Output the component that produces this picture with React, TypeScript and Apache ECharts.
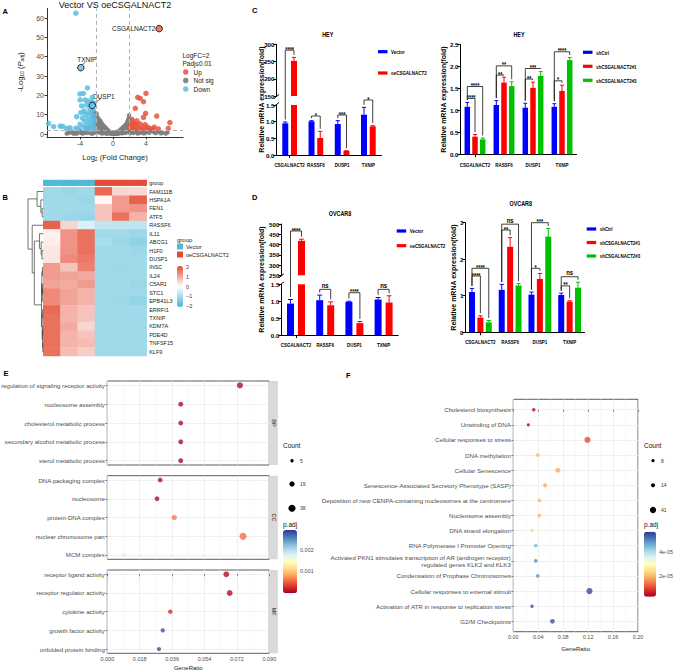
import React, { useEffect, useRef } from 'react';
import * as echarts from 'echarts';

const FONT = "'Liberation Sans', Arial, Helvetica, sans-serif";
const FONT_GP = "'Liberation Sans', Arial, Helvetica, sans-serif";

/* ================= A: volcano ================= */
const VOLCANO_TITLE = 'Vector VS oeCSGALNACT2';
const VOLCANO_X_TICKS = [-4, 0, 4];
const VOLCANO_Y_TICKS = [0, 10, 20, 30, 40, 50, 60];
const VOLCANO_FC_CUTS = [-2, 2];
const VOLCANO_P_CUT = 2;
const VOLCANO_UP = [
  [4.0, 21.0], [3.3, 18.4], [3.0, 19.0], [3.7, 16.7], [2.7, 13.3], [3.95, 10.7], [3.7, 8.6], [5.3, 9.3],
  [6.9, 5.9], [6.7, 2.9], [2.5, 5.5], [2.2, 4.5], [2.4, 6.5], [2.8, 5.0], [3.0, 4.0], [3.3, 5.2],
  [3.6, 3.5], [2.6, 3.2], [2.3, 2.8], [4.2, 3.5], [4.5, 2.8], [5.0, 3.5], [3.9, 4.8], [3.2, 2.5],
  [4.8, 2.5], [5.5, 2.6], [2.9, 6.8], [2.3, 7.5], [2.1, 3.5], [2.7, 2.3], [3.5, 2.2], [4.1, 2.4],
];
const VOLCANO_DOWN = [
  [-4.5, 62.5], [-3.1, 23.8], [-4.0, 20.7], [-3.6, 21.0], [-4.0, 17.6], [-3.4, 17.6], [-3.0, 17.0],
  [-2.6, 16.5], [-2.3, 16.0], [-3.8, 14.5], [-3.2, 15.0], [-2.8, 13.0], [-2.4, 12.5], [-3.5, 12.0],
  [-2.9, 11.0], [-2.6, 10.0], [-2.3, 9.5], [-3.3, 10.0], [-4.4, 9.0], [-3.7, 8.2], [-3.0, 8.0],
  [-2.5, 7.5], [-2.2, 7.0], [-2.8, 6.0], [-3.4, 6.5], [-4.0, 5.0], [-2.4, 5.0], [-3.1, 4.5],
  [-2.7, 4.0], [-3.6, 3.8], [-4.5, 3.0], [-5.2, 3.2], [-2.3, 3.2], [-3.0, 2.8], [-7.8, 5.5],
  [-7.2, 3.8], [-6.4, 4.1], [-6.1, 3.9], [-5.6, 2.9], [-4.2, 2.6], [-2.2, 2.5], [-2.6, 2.4],
  [-2.9, 2.3], [-3.3, 3.0], [-2.5, 19.0], [-3.9, 11.0],
];
const VOLCANO_NOTSIG = [
  [-2.3, 11.2], [-2.2, 9.8], [-2.1, 8.5], [-2.25, 7.6], [-2.05, 6.8], [-1.95, 9.0], [-1.9, 7.4],
  [-1.85, 6.1], [-1.8, 5.2], [-1.7, 6.5], [-1.65, 4.6], [-1.6, 5.6], [-1.5, 4.0], [-1.45, 3.4],
  [-1.4, 4.8], [-1.3, 3.0], [-1.25, 3.8], [-1.2, 2.5], [-1.1, 3.2], [-1.0, 2.2], [-0.95, 1.8],
  [-0.85, 2.6], [-0.8, 1.5], [-0.7, 1.2], [-0.6, 1.7], [-0.5, 0.9], [-0.4, 0.6], [-0.3, 0.4],
  [-0.2, 0.2], [-0.1, 0.1], [-2.15, 5.5], [-2.0, 4.5], [-1.95, 3.5], [-1.75, 2.8], [-1.55, 2.0],
  [-1.35, 1.5], [-1.15, 1.0], [-2.2, 3.0], [-2.1, 2.2], [-1.9, 1.6],
  [-2.4, 8.8], [-2.35, 10.3], [-2.0, 10.6], [-1.8, 8.2], [-1.7, 7.3], [-1.55, 6.8], [-1.45, 5.9],
  [-1.3, 5.1], [-1.2, 4.4], [-1.05, 3.9], [-0.9, 3.3], [-0.75, 2.4], [-0.65, 2.0], [-0.45, 1.3],
  [-0.35, 1.0], [-0.25, 0.7], [-2.05, 1.2], [-1.65, 1.2], [-1.25, 2.0], [-0.9, 1.1],
  [0.1, 0.1], [0.2, 0.3], [0.35, 0.5], [0.5, 0.9], [0.6, 1.3], [0.75, 1.6], [0.9, 2.0], [1.0, 2.6],
  [1.1, 2.2], [1.2, 3.2], [1.3, 2.8], [1.35, 3.8], [1.45, 4.3], [1.5, 3.4], [1.6, 5.0], [1.65, 4.2],
  [1.7, 5.6], [1.75, 6.3], [1.8, 4.8], [1.85, 7.2], [1.9, 6.0], [1.95, 9.6], [1.9, 8.0], [1.6, 2.4],
  [1.4, 1.6], [1.2, 1.3], [1.0, 0.9], [0.8, 0.6], [1.8, 3.0], [1.95, 2.2],
  [0.3, 0.8], [0.45, 0.4], [0.65, 0.9], [0.85, 1.3], [1.05, 1.6], [1.15, 2.9], [1.25, 3.6], [1.4, 2.5],
  [1.55, 4.4], [1.7, 3.7], [1.85, 5.4], [1.95, 4.0], [1.75, 2.0], [1.5, 1.2], [1.3, 0.8],
  [-5.3, 0.6], [-5.0, 1.2], [-4.6, 0.4], [-4.3, 0.9], [-4.0, 1.5], [-3.7, 0.3], [-3.4, 1.1],
  [-3.1, 0.6], [-2.8, 1.6], [-2.6, 0.8], [-2.4, 1.3], [-2.5, 0.2], [-3.0, 1.8], [-3.9, 0.7], [-4.8, 0.2],
  [2.2, 1.4], [2.5, 0.6], [2.8, 1.7], [3.1, 0.9], [3.4, 1.5], [3.7, 0.4], [4.0, 1.2], [4.4, 0.7],
  [4.8, 1.6], [5.2, 0.5], [5.6, 1.1], [6.0, 0.6], [6.4, 0.3], [2.4, 1.9], [3.0, 0.3], [4.6, 1.9],
  [-0.6, 0.3], [-1.0, 0.5], [-1.5, 0.7], [0.4, 0.2], [0.7, 0.3], [1.5, 0.6], [-1.8, 0.9], [1.8, 1.0],
  [-5.6, 0.3], [-4.4, 0.2], [-3.5, 0.5], [-3.2, 1.4], [-2.7, 0.4], [-2.3, 0.6], [-2.2, 1.7], [2.1, 0.5],
  [2.6, 1.1], [3.3, 0.7], [3.9, 0.5], [4.3, 1.6], [5.0, 0.9], [5.8, 0.4], [6.6, 0.8], [-0.8, 0.2],
  [0.1, 0.5], [0.5, 0.1], [-1.3, 0.3], [1.1, 0.4],
];
const VOLCANO_HIGHLIGHT = [
  { gene: 'CSGALNACT2', x: 5.6, y: 54.5, group: 'Up' },
  { gene: 'TXNIP', x: -3.9, y: 34.3, group: 'Down' },
  { gene: 'DUSP1', x: -2.5, y: 14.8, group: 'Down' },
];
const VOLCANO_LEGEND = ['Up', 'Not sig', 'Down'];

/* ================= B: heatmap ================= */
const HEATMAP_GENES = ['FAM111B', 'HSPA1A', 'FEN1', 'ATF5', 'RASSF6', 'IL11', 'ABCG1', 'H1F0', 'DUSP1', 'INSC',
  'IL24', 'C5AR1', 'STC1', 'EPB41L3', 'ERRFI1', 'TXNIP', 'KDM7A', 'PDE4D', 'TNFSF15', 'KLF9'];
const HEATMAP_SAMPLES = ['Vector_1', 'Vector_2', 'Vector_3', 'oe_1', 'oe_2', 'oe_3'];
const HEATMAP_GROUP_NAMES = ['Vector', 'oeCSGALNACT2'];
const HEATMAP_SAMPLE_GROUP = [0, 0, 0, 1, 1, 1];
const HEATMAP_VALUES = [
  [-1.1, -1.15, -1.1, 1.8, 0.5, 0.45],
  [-1.1, -1.1, -1.15, 0.1, 1.2, 1.9],
  [-1.1, -1.1, -1.1, 0.7, 1.2, 1.3],
  [-1.1, -1.15, -1.2, 0.7, 1.7, 0.9],
  [1.9, 0.5, -0.4, -0.75, -0.75, -0.75],
  [0.15, 1.3, 1.7, -1.1, -1.1, -1.15],
  [0.2, 1.3, 1.7, -1.0, -1.15, -1.3],
  [0.3, 1.3, 1.7, -1.1, -1.1, -1.15],
  [0.3, 1.4, 1.6, -1.1, -1.1, -1.1],
  [1.2, 0.7, 1.5, -1.1, -1.15, -1.1],
  [1.2, 1.1, 1.0, -1.1, -1.1, -1.1],
  [1.1, 1.0, 1.2, -1.1, -1.1, -1.15],
  [1.4, 1.1, 0.9, -1.1, -1.1, -1.1],
  [1.4, 1.1, 0.9, -1.1, -1.15, -1.25],
  [1.8, 0.9, 0.7, -1.1, -1.1, -1.1],
  [1.7, 0.9, 0.7, -1.1, -1.1, -1.1],
  [1.7, 1.0, 0.5, -1.1, -1.1, -1.1],
  [1.7, 0.9, 0.7, -1.1, -1.1, -1.1],
  [1.7, 0.9, 0.8, -1.1, -1.1, -1.1],
  [1.7, 0.8, 0.6, -1.1, -1.1, -1.1],
];
const HEATMAP_LEGEND_TICKS = [2, 1, 0, -1, -2];
const HEATMAP_RANGE = [-2.15, 2.15];
// merges: [childA, childB, height]; child >= 0 is a row, child < 0 is merge -(k+1)
const DENDRO_MERGES = [
  [2, 3, 0.7], [1, -1, 1.5], [0, -2, 3.8],
  [7, 8, 0.8], [6, -4, 1.3], [5, -5, 2.3],
  [9, 10, 0.5], [11, 12, 0.4], [13, -8, 0.6], [-7, -9, 0.9],
  [14, 15, 0.4], [16, 17, 0.3], [18, 19, 0.3], [-12, -13, 0.5], [-11, -14, 0.7], [-10, -15, 1.1],
  [-6, -16, 5.5], [4, -17, 6.8], [-3, -18, 9.4],
];

/* ================= C / D: qPCR ================= */
const QPCR_GENES = ['CSGALNACT2', 'RASSF6', 'DUSP1', 'TXNIP'];
const OE_GROUPS = ['Vector', 'oeCSGALNACT2'];
const SH_GROUPS = ['shCtrl', 'shCSGALNACT2#1', 'shCSGALNACT2#3'];

const HEY_OE_MEAN = [[0.95, 1.01, 0.93, 1.21], [252, 0.51, 0.12, 0.86]];
const HEY_OE_SD = [[0.04, 0.02, 0.1, 0.22], [10, 0.2, 0.01, 0.02]];
const HEY_OE_SIG = [[0, 0, 1, 283, '****'], [1, 0, 1, 1.17, '*'], [2, 0, 1, 1.2, '***'], [3, 0, 1, 1.65, '*']];

const HEY_SH_MEAN = [[1.08, 1.12, 1.06, 1.08], [0.4, 1.63, 1.51, 1.44], [0.34, 1.55, 1.78, 2.14]];
const HEY_SH_SD = [[0.1, 0.1, 0.1, 0.07], [0.05, 0.12, 0.13, 0.13], [0.03, 0.1, 0.1, 0.06]];
const HEY_SH_SIG = [[0, 0, 1, 1.27, '****'], [0, 0, 2, 1.54, '****'], [1, 0, 1, 1.8, '**'], [1, 0, 2, 2.01, '**'],
  [2, 0, 1, 1.71, '**'], [2, 0, 2, 1.95, '***'], [3, 0, 1, 1.67, '*'], [3, 0, 2, 2.33, '****']];

const OV_OE_MEAN = [[0.93, 1.03, 0.98, 1.05], [418, 0.88, 0.35, 0.96]];
const OV_OE_SD = [[0.12, 0.15, 0.02, 0.06], [8, 0.1, 0.05, 0.2]];
const OV_OE_SIG = [[0, 0, 1, 466, '****'], [1, 0, 1, 1.35, 'ns'], [2, 0, 1, 1.25, '****'], [3, 0, 1, 1.35, 'ns']];

const OV_SH_MEAN = [[1.1, 1.16, 1.03, 1.02], [0.4, 2.34, 1.46, 0.84], [0.27, 1.28, 2.62, 1.22]];
const OV_SH_SD = [[0.1, 0.15, 0.07, 0.05], [0.05, 0.25, 0.15, 0.02], [0.05, 0.05, 0.22, 0.15]];
const OV_SH_SIG = [[0, 0, 1, 1.54, '****'], [0, 0, 2, 1.75, '****'], [1, 0, 1, 2.8, '**'], [1, 0, 2, 2.96, 'ns'],
  [2, 0, 1, 1.75, '*'], [2, 0, 2, 3.0, '***'], [3, 0, 1, 1.27, '**'], [3, 0, 2, 1.52, 'ns']];

/* ================= E: GO dot plot ================= */
const E_BP_TERMS = ['regulation of signaling receptor activity', 'nucleosome assembly', 'cholesterol metabolic process',
  'secondary alcohol metabolic process', 'sterol metabolic process'];
const E_BP_RATIO = [0.0737, 0.0408, 0.0408, 0.0408, 0.0408];
const E_BP_PADJ = [0.00008, 0.00006, 0.00006, 0.00006, 0.00006];
const E_BP_COUNT = [27, 15, 15, 15, 15];
const E_CC_TERMS = ['DNA packaging complex', 'nucleosome', 'protein-DNA complex', 'nuclear chromosome part', 'MCM complex'];
const E_CC_RATIO = [0.0294, 0.0276, 0.0372, 0.0754, 0.0094];
const E_CC_PADJ = [0.00008, 0.00008, 0.00066, 0.00058, 0.00185];
const E_CC_COUNT = [15, 14, 19, 38, 5];
const E_MF_TERMS = ['receptor ligand activity', 'receptor regulator activity', 'cytokine activity',
  'growth factor activity', 'unfolded protein binding'];
const E_MF_RATIO = [0.0661, 0.068, 0.035, 0.0308, 0.0287];
const E_MF_PADJ = [0.00008, 0.00008, 0.00028, 0.00278, 0.0028];
const E_MF_COUNT = [23, 24, 12, 11, 10];
const E_COUNT_BREAKS = [5, 19, 38];
const E_PADJ_RANGE = [0, 0.0029];
const E_PADJ_TICKS = [0.002, 0.001];
const E_X_TICKS = { min: 0, max: 0.09, step: 0.018 };

/* ================= F: Reactome dot plot ================= */
const F_TERMS = ['Cholesterol biosynthesis', 'Unwinding of DNA', 'Cellular responses to stress', 'DNA methylation',
  'Cellular Senescence', 'Senescence-Associated Secretory Phenotype (SASP)',
  'Deposition of new CENPA-containing nucleosomes at the centromere', 'Nucleosome assembly', 'DNA strand elongation',
  'RNA Polymerase I Promoter Opening',
  'Activated PKN1 stimulates transcription of AR (androgen receptor)\nregulated genes KLK2 and KLK3',
  'Condensation of Prophase Chromosomes', 'Cellular responses to external stimuli',
  'Activation of ATR in response to replication stress', 'G2/M Checkpoints'];
const F_RATIO = [0.0328, 0.0241, 0.119, 0.0392, 0.0714, 0.051, 0.0418, 0.0418, 0.030, 0.036, 0.036, 0.0392, 0.1222, 0.030, 0.0627];
const F_PADJ = [3.5e-6, 3e-6, 1.0e-5, 2.0e-5, 1.85e-5, 1.9e-5, 2.05e-5, 2.05e-5, 2.35e-5, 4.5e-5, 4.95e-5, 4.8e-5, 5.6e-5, 5.5e-5, 5.5e-5];
const F_COUNT = [11, 8, 40, 13, 24, 17, 14, 14, 10, 12, 12, 13, 41, 10, 21];
const F_COUNT_BREAKS = [8, 14, 41];
const F_PADJ_RANGE = [2e-6, 5.76e-5];
const F_PADJ_TICKS = [4e-5, 2e-5];
const F_X_TICKS = { min: 0, max: 0.2, step: 0.04 };

/* ================= styling / layout ================= */
const UP_COLOR = '#E8553F';
const DOWN_COLOR = '#5ABCE0';
const NS_COLOR = '#7F7F7F';
const HEAT_LOW = '#45B5D4';
const HEAT_HIGH = '#E64B35';
const GROUP_COLORS = ['#4DBBD5', '#E64B35'];
const BAR_COLORS = ['#0000FF', '#FF0000', '#00C000'];
const RDYLBU = ['#A50026', '#D73027', '#F46D43', '#FDAE61', '#FEE090', '#FFFFBF', '#E0F3F8', '#ABD9E9', '#74ADD1', '#4575B4', '#313695'];
const NARROW = 0.72;

const L: any = {
  volcano: { left: 47, top: 8.35, width: 136.1, height: 128.55 },
  heat: { left: 43.3, top: 187.3, width: 103.4, height: 168.7 },
  group: { left: 43.3, top: 180, width: 103.4, height: 5.7 },
  dendro: { left: 27, top: 187.3, width: 16.3, height: 168.7 },
  heatBar: { left: 177, top: 266, width: 6, height: 41 },
  cl: { upper: { left: 276.5, top: 44.3, width: 105, height: 51.7 }, lower: { left: 276.5, top: 105, width: 105, height: 50 } },
  cr: { left: 460.5, top: 44.3, width: 116, height: 110 },
  dl: { upper: { left: 281.4, top: 224, width: 116.8, height: 51.3 }, lower: { left: 281.4, top: 284.3, width: 116.8, height: 50.7 } },
  dr: { left: 465.5, top: 222.7, width: 119, height: 109.5 },
  legCL: { left: 378, top: 51.7, gap: 21.3 },
  legCR: { left: 583, top: 52.3, gap: 14 },
  legDL: { left: 396.7, top: 231, gap: 14.7 },
  legDR: { left: 586.7, top: 229, gap: 13.5 },
  eBP: { left: 107.3, top: 381, width: 162, height: 84 },
  eCC: { left: 107.3, top: 475.7, width: 162, height: 83.6 },
  eMF: { left: 107.3, top: 570, width: 162, height: 83.3 },
  eBar: { left: 283, top: 530, width: 14, height: 63.3 },
  eCountY: [460.7, 484, 508.3],
  f: { left: 513.3, top: 399.3, width: 124.7, height: 232.4 },
  fBar: { left: 644, top: 531.7, width: 12, height: 65 },
  fCountY: [460.7, 485.3, 510],
};

const sizeE = (c: number) => 1.2 + 0.95 * Math.sqrt(c);
const sizeF = (c: number) => 0.8 + 0.85 * Math.sqrt(c);

export default function App() {
  const ref = useRef<HTMLDivElement | null>(null);
  useEffect(() => {
    if (!ref.current) return;
    const chart = echarts.init(ref.current, undefined, { renderer: 'svg' });
    const grids: any[] = [];
    const xAxis: any[] = [];
    const yAxis: any[] = [];
    const series: any[] = [];
    const addGrid = (box: any, x: any, y: any, extra: any = {}) => {
      grids.push({ ...box, containLabel: false, outerBoundsMode: 'none', ...extra });
      const gi = grids.length - 1;
      xAxis.push({ gridIndex: gi, ...x });
      yAxis.push({ gridIndex: gi, ...y });
      return gi;
    };
    const addSeries = (s: any) => { series.push({ animation: false, ...s }); return series.length - 1; };

    /* ---- A ---- */
    const ggAxisLine = { show: true, onZero: false, lineStyle: { color: '#000', width: 0.8 } };
    const gA = addGrid(L.volcano,
      { type: 'value', min: -8, max: 8.5, axisLine: ggAxisLine,
        axisTick: { show: true, customValues: VOLCANO_X_TICKS, length: 2.5, lineStyle: { color: '#000', width: 0.8 } },
        axisLabel: { customValues: VOLCANO_X_TICKS, fontSize: 7, color: '#4D4D4D', margin: 3 }, splitLine: { show: false } },
      { type: 'value', min: -1.5, max: 65, axisLine: ggAxisLine,
        axisTick: { show: true, customValues: VOLCANO_Y_TICKS, length: 2.5, lineStyle: { color: '#000', width: 0.8 } },
        axisLabel: { customValues: VOLCANO_Y_TICKS, fontSize: 7, color: '#4D4D4D', margin: 3 }, splitLine: { show: false } });
    addSeries({ type: 'scatter', name: 'Not sig', xAxisIndex: gA, yAxisIndex: gA, data: VOLCANO_NOTSIG, symbolSize: 4.6,
      itemStyle: { color: NS_COLOR, opacity: 0.95 }, silent: true,
      markLine: { silent: true, symbol: ['none', 'none'], label: { show: false },
        lineStyle: { type: [4, 3], color: '#B0B0B0', width: 1 },
        data: [...VOLCANO_FC_CUTS.map((v) => ({ xAxis: v })), { yAxis: VOLCANO_P_CUT }] } });
    addSeries({ type: 'scatter', name: 'Down', xAxisIndex: gA, yAxisIndex: gA, data: VOLCANO_DOWN, symbolSize: 5.5,
      itemStyle: { color: DOWN_COLOR, opacity: 0.85 }, silent: true });
    addSeries({ type: 'scatter', name: 'Up', xAxisIndex: gA, yAxisIndex: gA, data: VOLCANO_UP, symbolSize: 5.5,
      itemStyle: { color: UP_COLOR, opacity: 0.85 }, silent: true });
    addSeries({ type: 'scatter', name: 'highlight', xAxisIndex: gA, yAxisIndex: gA, symbolSize: 6.5, silent: true, z: 4,
      data: VOLCANO_HIGHLIGHT.map((h) => ({ name: h.gene, value: [h.x, h.y],
        itemStyle: { color: h.group === 'Up' ? UP_COLOR : DOWN_COLOR, borderColor: '#000', borderWidth: 1 } })) });

    /* ---- B ---- */
    const gHeat = addGrid(L.heat, { type: 'category', data: HEATMAP_SAMPLES, show: false },
      { type: 'category', data: HEATMAP_GENES, inverse: true, position: 'right', axisLine: { show: false },
        axisTick: { show: false }, axisLabel: { fontSize: 5.5, color: '#222', margin: 2.5 } });
    const sHeat = addSeries({ type: 'heatmap', xAxisIndex: gHeat, yAxisIndex: gHeat, silent: true,
      data: HEATMAP_VALUES.flatMap((row, r) => row.map((v, c) => [c, r, v])) });
    const gGroup = addGrid(L.group, { type: 'category', data: HEATMAP_SAMPLES, show: false },
      { type: 'category', data: ['group'], position: 'right', axisLine: { show: false }, axisTick: { show: false },
        axisLabel: { fontSize: 5.5, color: '#222', margin: 2.5 } });
    const sGroup = addSeries({ type: 'heatmap', xAxisIndex: gGroup, yAxisIndex: gGroup, silent: true,
      data: HEATMAP_SAMPLE_GROUP.map((g, c) => [c, 0, g]) });
    const gDen = addGrid(L.dendro, { type: 'value', min: 0, max: 10, inverse: true, show: false },
      { type: 'value', min: -0.5, max: HEATMAP_GENES.length - 0.5, inverse: true, show: false });
    const nodes: any[] = [];
    const nodeOf = (c: number) => (c >= 0 ? { x: 0, y: c } : nodes[-c - 1]);
    const dendroLines: any[] = [];
    DENDRO_MERGES.forEach(([a, b, h]) => {
      const na = nodeOf(a), nb = nodeOf(b);
      dendroLines.push({ coords: [[na.x, na.y], [h, na.y], [h, nb.y], [nb.x, nb.y]] });
      nodes.push({ x: h, y: (na.y + nb.y) / 2 });
    });
    addSeries({ type: 'lines', coordinateSystem: 'cartesian2d', xAxisIndex: gDen, yAxisIndex: gDen, polyline: true,
      silent: true, lineStyle: { color: '#3A3A3A', width: 0.7, opacity: 1 }, data: dendroLines });

    /* ---- C / D ---- */
    const gpAxisLine = { show: true, onZero: false, lineStyle: { color: '#000', width: 1 } };
    const gpTick = { show: true, length: 3, lineStyle: { color: '#000', width: 1 } };
    const gpLabel = { fontFamily: FONT_GP, fontWeight: 'bold', color: '#000', fontSize: 6.2, margin: 2 };
    const panels: any[] = [
      { box: L.cl, leg: L.legCL, groups: OE_GROUPS, mean: HEY_OE_MEAN, sd: HEY_OE_SD, sig: HEY_OE_SIG, barWidth: 6, gap: 0.45,
        lower: { min: 0, max: 1.5, interval: 0.5, dec: 1 }, upper: { min: 150, max: 300, interval: 50, dec: 0 } },
      { box: { lower: L.cr }, leg: L.legCR, groups: SH_GROUPS, mean: HEY_SH_MEAN, sd: HEY_SH_SD, sig: HEY_SH_SIG, barWidth: 5.5, gap: 0.4,
        lower: { min: 0, max: 2.5, interval: 0.5, dec: 1 } },
      { box: L.dl, leg: L.legDL, groups: OE_GROUPS, mean: OV_OE_MEAN, sd: OV_OE_SD, sig: OV_OE_SIG, barWidth: 7, gap: 0.57,
        lower: { min: 0, max: 1.5, interval: 0.5, dec: 1 }, upper: { min: 250, max: 500, interval: 50, dec: 0 } },
      { box: { lower: L.dr }, leg: L.legDR, groups: SH_GROUPS, mean: OV_SH_MEAN, sd: OV_SH_SD, sig: OV_SH_SIG, barWidth: 6, gap: 0.4,
        lower: { min: 0, max: 3, interval: 1, dec: 0 } },
    ];
    panels.forEach((p) => {
      const n = p.groups.length;
      const pitch = p.barWidth * (1 + p.gap);
      const mk = (box: any, sc: any, isLower: boolean) => {
        const gi = addGrid(box,
          isLower
            ? { type: 'category', data: QPCR_GENES, axisLine: gpAxisLine, axisTick: { ...gpTick, alignWithLabel: true },
                axisLabel: { show: false } }
            : { type: 'category', data: QPCR_GENES, show: false },
          { type: 'value', min: sc.min, max: sc.max, interval: sc.interval, axisLine: gpAxisLine, axisTick: gpTick,
            axisLabel: { ...gpLabel, formatter: (v: number) => v.toFixed(sc.dec) }, splitLine: { show: false } });
        p.groups.forEach((name: string, k: number) => {
          addSeries({ type: 'bar', name, xAxisIndex: gi, yAxisIndex: gi, data: p.mean[k], barWidth: p.barWidth,
            barGap: `${p.gap * 100}%`, itemStyle: { color: BAR_COLORS[k] }, silent: true });
        });
        const errData: any[] = [];
        p.groups.forEach((_: string, k: number) => p.mean[k].forEach((v: number, c: number) => {
          const inRange = isLower ? v <= sc.max : v >= sc.min;
          if (inRange) errData.push([c, v, p.sd[k][c], k]);
        }));
        addSeries({ type: 'custom', xAxisIndex: gi, yAxisIndex: gi, silent: true, z: 3, data: errData,
          renderItem: (_params: any, api: any) => {
            const cat = api.value(0), v = api.value(1), e = api.value(2), k = api.value(3);
            const b = api.coord([cat, v]);
            const t = api.coord([cat, v + e]);
            const x = b[0] + (k - (n - 1) / 2) * pitch;
            const stroke = BAR_COLORS[k];
            const cw = p.barWidth * 0.7;
            return { type: 'group', children: [
              { type: 'line', shape: { x1: x, y1: b[1], x2: x, y2: t[1] }, style: { stroke, lineWidth: 1 } },
              { type: 'line', shape: { x1: x - cw / 2, y1: t[1], x2: x + cw / 2, y2: t[1] }, style: { stroke, lineWidth: 1 } },
            ] };
          } });
        return gi;
      };
      p.lowerGrid = mk(p.box.lower, p.lower, true);
      if (p.upper) p.upperGrid = mk(p.box.upper, p.upper, false);
      p.pitch = pitch;
    });

    /* ---- E ---- */
    const ggGridStyle = { show: true, borderColor: '#333333', borderWidth: 0.8, backgroundColor: 'transparent' };
    const dotAxisY = (terms: string[], fs: number, pad: number) => {
      const idx = terms.map((_, i) => i);
      return { type: 'value', inverse: true, min: -pad, max: terms.length - 1 + pad, axisLine: { show: false },
        axisTick: { show: true, customValues: idx, length: 2, lineStyle: { color: '#333', width: 0.6 } },
        axisLabel: { customValues: idx, formatter: (v: number) => terms[Math.round(v)], fontSize: fs, color: '#4D4D4D',
          margin: 2.5, lineHeight: fs + 1 },
        splitLine: { show: true, lineStyle: { color: '#EBEBEB', width: 0.8 } } };
    };
    const dotAxisX = (t: any, showLab: boolean, dec: number) => ({
      type: 'value', min: t.min, max: t.max, interval: t.step, axisLine: { show: false },
      axisTick: { show: showLab, length: 2, lineStyle: { color: '#333', width: 0.6 } },
      axisLabel: { show: showLab, formatter: (v: number) => v.toFixed(dec), fontSize: 5.5, color: '#4D4D4D', margin: 2.5 },
      splitLine: { show: true, lineStyle: { color: '#EBEBEB', width: 0.8 } },
      minorTick: { show: false, splitNumber: 2 },
      minorSplitLine: { show: true, lineStyle: { color: '#F4F4F4', width: 0.5 } },
    });
    const ePanels = [
      { box: L.eBP, terms: E_BP_TERMS, ratio: E_BP_RATIO, padj: E_BP_PADJ, count: E_BP_COUNT, strip: 'BP' },
      { box: L.eCC, terms: E_CC_TERMS, ratio: E_CC_RATIO, padj: E_CC_PADJ, count: E_CC_COUNT, strip: 'CC' },
      { box: L.eMF, terms: E_MF_TERMS, ratio: E_MF_RATIO, padj: E_MF_PADJ, count: E_MF_COUNT, strip: 'MF' },
    ];
    const eSeries: number[] = [];
    ePanels.forEach((ep, i) => {
      const gi = addGrid(ep.box, dotAxisX(E_X_TICKS, i === 2, 3), dotAxisY(ep.terms, 6.1, 0.23), ggGridStyle);
      eSeries.push(addSeries({ type: 'scatter', xAxisIndex: gi, yAxisIndex: gi, silent: true,
        data: ep.ratio.map((r, j) => [r, j, ep.padj[j], ep.count[j]]), symbolSize: (v: number[]) => sizeE(v[3]) }));
    });

    /* ---- F ---- */
    const gF = addGrid(L.f, dotAxisX(F_X_TICKS, true, 2), dotAxisY(F_TERMS, 6.15, 0.69), ggGridStyle);
    const sF = addSeries({ type: 'scatter', xAxisIndex: gF, yAxisIndex: gF, silent: true,
      data: F_RATIO.map((r, j) => [r, j, F_PADJ[j], F_COUNT[j]]), symbolSize: (v: number[]) => sizeF(v[3]) });

    const option: any = {
      animation: false,
      backgroundColor: '#ffffff',
      textStyle: { fontFamily: FONT },
      grid: grids, xAxis, yAxis, series,
      legend: [
        { data: VOLCANO_LEGEND, left: 183, top: 68, orient: 'vertical', icon: 'circle', itemWidth: 5.5, itemHeight: 5.5,
          itemGap: 0.5, padding: 0, selectedMode: false, textStyle: { fontSize: 6.5, color: '#222', lineHeight: 8, fontFamily: FONT } },
      ],
      visualMap: [
        { type: 'continuous', seriesIndex: sHeat, dimension: 2, min: HEATMAP_RANGE[0], max: HEATMAP_RANGE[1],
          inRange: { color: [HEAT_LOW, '#FFFFFF', HEAT_HIGH] }, left: L.heatBar.left, top: L.heatBar.top,
          itemWidth: L.heatBar.width, itemHeight: L.heatBar.height, padding: 0, calculable: false, hoverLink: false },
        { type: 'piecewise', seriesIndex: sGroup, dimension: 2, show: false,
          pieces: HEATMAP_GROUP_NAMES.map((_, g) => ({ value: g, color: GROUP_COLORS[g] })) },
        { type: 'continuous', seriesIndex: eSeries, dimension: 2, min: E_PADJ_RANGE[0], max: E_PADJ_RANGE[1],
          inRange: { color: RDYLBU }, left: L.eBar.left, top: L.eBar.top, itemWidth: L.eBar.width,
          itemHeight: L.eBar.height, padding: 0, calculable: false, hoverLink: false },
        { type: 'continuous', seriesIndex: sF, dimension: 2, min: F_PADJ_RANGE[0], max: F_PADJ_RANGE[1],
          inRange: { color: RDYLBU }, left: L.fBar.left, top: L.fBar.top, itemWidth: L.fBar.width,
          itemHeight: L.fBar.height, padding: 0, calculable: false, hoverLink: false },
      ],
    };
    chart.setOption(option);

    /* ---- graphics (need pixel conversion) ---- */
    const G: any[] = [];
    const txt = (x: number, y: number, text: string, s: any = {}, extra: any = {}) => G.push({
      type: 'text', x, y, silent: true, ...extra,
      style: { text, fontFamily: FONT, fontSize: 6, fill: '#000', textAlign: 'left', textVerticalAlign: 'middle', ...s } });
    const line = (x1: number, y1: number, x2: number, y2: number, stroke = '#000', lineWidth = 0.8) =>
      G.push({ type: 'line', silent: true, shape: { x1, y1, x2, y2 }, style: { stroke, lineWidth } });

    // panel letters
    const bold = { fontWeight: 'bold', fontSize: 7.5 };
    txt(2.5, 11, 'A', bold); txt(2.5, 197.7, 'B', bold); txt(252, 10, 'C', bold);
    txt(252, 197.7, 'D', bold); txt(3.5, 373.3, 'E', bold); txt(346, 375, 'F', bold);

    // A texts
    txt(115, 4.5, VOLCANO_TITLE, { fontSize: 9, textAlign: 'center', fill: '#111' });
    txt(115, 157, 'Log{s|2} (Fold Change)', { fontSize: 7.5, textAlign: 'center', fill: '#222',
      rich: { s: { fontSize: 5, padding: [4, 0, 0, 0] } } });
    txt(20, 72, '-Log{s|10} ({i|P}{si|adj})', { fontSize: 7.5, textAlign: 'center', fill: '#222',
      rich: { s: { fontSize: 5, padding: [4, 0, 0, 0] }, i: { fontStyle: 'italic', fontSize: 7.5 },
        si: { fontStyle: 'italic', fontSize: 5, padding: [4, 0, 0, 0] } } }, { rotation: Math.PI / 2 });
    txt(182.5, 55.5, 'LogFC=2', { fontSize: 6.5, fill: '#222' });
    txt(182.5, 63.5, 'Padj\u22640.01', { fontSize: 6.5, fill: '#222' });
    const labelShift: any = { CSGALNACT2: [-25.5, 0, false], TXNIP: [6, -8.6, true], DUSP1: [11.4, -9.3, true] };
    VOLCANO_HIGHLIGHT.forEach((h) => {
      const pt = chart.convertToPixel({ gridIndex: gA }, [h.x, h.y]) as number[];
      const [dx, dy, withLine] = labelShift[h.gene];
      txt(pt[0] + dx, pt[1] + dy, h.gene, { fontSize: 6.5, textAlign: 'center', fill: '#222' });
      if (withLine) {
        const len = Math.hypot(dx, dy);
        const ux = dx / len, uy = dy / len;
        line(pt[0] + ux * 3.3, pt[1] + uy * 3.3, pt[0] + dx - ux * 3.6, pt[1] + dy - uy * 3.6, '#000', 0.6);
      }
    });

    // B legend
    txt(177, 239.5, 'group', { fontSize: 6, fill: '#222' });
    HEATMAP_GROUP_NAMES.forEach((g, i) => {
      G.push({ type: 'rect', silent: true, shape: { x: 177, y: 243.5 + i * 8, width: 6, height: 6 }, style: { fill: GROUP_COLORS[i] } });
      txt(186, 246.5 + i * 8, g, { fontSize: 5.5, fill: '#222' });
    });
    HEATMAP_LEGEND_TICKS.forEach((v) => {
      const y = L.heatBar.top + L.heatBar.height * (HEATMAP_RANGE[1] - v) / (HEATMAP_RANGE[1] - HEATMAP_RANGE[0]);
      txt(L.heatBar.left + L.heatBar.width + 3, y, v < 0 ? '\u2212' + (-v) : String(v), { fontSize: 5.5, fill: '#333' });
    });

    // C/D titles and y titles
    const gpTitle = { fontFamily: FONT_GP, fontWeight: 'bold', fontSize: 7.5, textAlign: 'center' };
    txt(327.7, 34.3, 'HEY', gpTitle, { scaleX: NARROW });
    txt(519, 34, 'HEY', gpTitle, { scaleX: NARROW });
    txt(340, 213, 'OVCAR8', gpTitle, { scaleX: NARROW });
    txt(520.7, 202.7, 'OVCAR8', gpTitle, { scaleX: NARROW });
    const yTitle = { fontWeight: 'bold', fontSize: 7, textAlign: 'center' };
    txt(261, 99.5, 'Relative mRNA expression(fold)', yTitle, { rotation: Math.PI / 2 });
    txt(443.3, 99.5, 'Relative mRNA expression(fold)', yTitle, { rotation: Math.PI / 2 });
    txt(261.7, 279.5, 'Relative mRNA expression(fold)', yTitle, { rotation: Math.PI / 2 });
    txt(453.5, 277.5, 'Relative mRNA expression(fold)', yTitle, { rotation: Math.PI / 2 });

    // category labels, legends, brackets and axis breaks
    panels.forEach((p) => {
      const n = p.groups.length;
      const px = (cat: number, v: number) => {
        const g = p.upper && v >= p.upper.min ? p.upperGrid : p.lowerGrid;
        return chart.convertToPixel({ gridIndex: g }, [cat, v]) as number[];
      };
      QPCR_GENES.forEach((gene, c) => {
        const pt = px(c, p.lower.min);
        txt(pt[0], pt[1] + 10, gene, { fontFamily: FONT_GP, fontWeight: 'bold', fontSize: 6.2, textAlign: 'center' },
          { scaleX: NARROW });
      });
      p.groups.forEach((gname: string, k: number) => {
        const y = p.leg.top + k * p.leg.gap;
        G.push({ type: 'rect', silent: true, shape: { x: p.leg.left, y: y - 1.6, width: 9.5, height: 3.2 },
          style: { fill: BAR_COLORS[k] } });
        G.push({ type: 'text', silent: true, x: p.leg.left + 13, y, scaleX: NARROW,
          style: { text: gname, fontFamily: FONT_GP, fontWeight: 'bold', fontSize: 6.2, fill: '#000',
            textAlign: 'left', textVerticalAlign: 'middle' } });
      });
      const barX = (cat: number, k: number) => px(cat, 0)[0] + (k - (n - 1) / 2) * p.pitch;
      p.sig.forEach(([cat, a, b, y, label]: any[]) => {
        const yl = px(cat, y)[1];
        const xa = barX(cat, a), xb = barX(cat, b);
        const ya = px(cat, p.mean[a][cat] + p.sd[a][cat])[1] - 2.5;
        const yb = px(cat, p.mean[b][cat] + p.sd[b][cat])[1] - 2.5;
        G.push({ type: 'polyline', silent: true, shape: { points: [[xa, ya], [xa, yl], [xb, yl], [xb, yb]] },
          style: { stroke: '#111', lineWidth: 0.8, fill: null } });
        const isNs = label === 'ns';
        txt((xa + xb) / 2, isNs ? yl - 0.8 : yl + 2.8, label, { fontFamily: FONT_GP, fontWeight: 'bold',
          fontSize: isNs ? 7 : 7.5, textAlign: 'center', textVerticalAlign: 'bottom' }, { scaleX: isNs ? 0.85 : 0.75 });
      });
      if (p.upper) {
        const yU = (chart.convertToPixel({ gridIndex: p.upperGrid }, [0, p.upper.min]) as number[])[1];
        const yLo = (chart.convertToPixel({ gridIndex: p.lowerGrid }, [0, p.lower.max]) as number[])[1];
        const x0 = p.box.lower.left;
        line(x0 - 2.5, yU + 2.5, x0 + 2.5, yU - 1.5, '#000', 1);
        line(x0 - 2.5, yLo + 1.5, x0 + 2.5, yLo - 2.5, '#000', 1);
      }
    });

    // E strips and legends
    ePanels.forEach((ep) => {
      const b = ep.box;
      G.push({ type: 'rect', silent: true, shape: { x: b.left + b.width + 0.8, y: b.top, width: 7.7, height: b.height },
        style: { fill: '#D9D9D9' } });
      txt(b.left + b.width + 4.65, b.top + b.height / 2, ep.strip, { fontSize: 5.5, fill: '#1A1A1A', textAlign: 'center' },
        { rotation: -Math.PI / 2 });
    });
    const countLegend = (x: number, ys: number[], breaks: number[], sz: (c: number) => number, title: number) => {
      txt(x, title, 'Count', { fontSize: 6.5, fill: '#111' });
      breaks.forEach((bk, i) => {
        G.push({ type: 'circle', silent: true, shape: { cx: x + 9, cy: ys[i], r: sz(bk) / 2 }, style: { fill: '#000' } });
        txt(x + 17, ys[i], String(bk), { fontSize: 5, fill: '#333' });
      });
    };
    countLegend(283, L.eCountY, E_COUNT_BREAKS, sizeE, 445.7);
    countLegend(644, L.fCountY, F_COUNT_BREAKS, sizeF, 445);
    const barLabels = (bar: any, range: number[], ticks: number[], fmt: (v: number) => string, titleY: number) => {
      txt(bar.left, titleY, 'p.adj', { fontSize: 6.5, fill: '#111' });
      ticks.forEach((v) => {
        const y = bar.top + bar.height * (range[1] - v) / (range[1] - range[0]);
        line(bar.left, y, bar.left + bar.width * 0.2, y, '#FFFFFF', 0.6);
        line(bar.left + bar.width * 0.8, y, bar.left + bar.width, y, '#FFFFFF', 0.6);
        txt(bar.left + bar.width + 3, y, fmt(v), { fontSize: 5.5, fill: '#4D4D4D' });
      });
    };
    barLabels(L.eBar, E_PADJ_RANGE, E_PADJ_TICKS, (v) => v.toFixed(3), 524);
    barLabels(L.fBar, F_PADJ_RANGE, F_PADJ_TICKS, (v) => v.toExponential(0).replace('e-', 'e-0'), 524);
    txt(L.eMF.left + L.eMF.width / 2, 667.5, 'GeneRatio', { fontSize: 6, fill: '#222', textAlign: 'center' });
    txt(L.f.left + L.f.width / 2, 649.3, 'GeneRatio', { fontSize: 6, fill: '#222', textAlign: 'center' });

    chart.setOption({ graphic: G });
    return () => chart.dispose();
  }, []);
  return (
    <div ref={ref} style={{ position: 'fixed', left: 0, top: 0, width: 677, height: 672, background: '#fff' }} />
  );
}
